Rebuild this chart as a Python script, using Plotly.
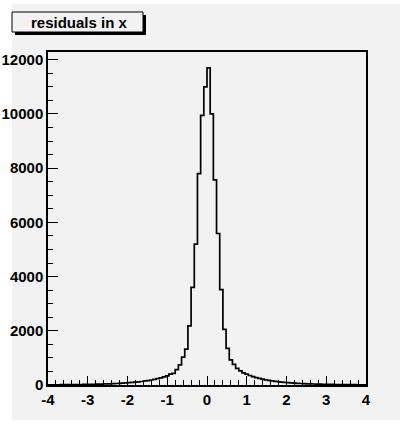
import plotly.graph_objects as go

# Histogram definition: 100 bins from -4 to 4
x_lo, x_hi, n_bins = -4.0, 4.0, 100

counts = [
    8, 9, 9, 10, 11, 12, 13, 14, 15, 16,
    18, 20, 22, 24, 26, 29, 32, 36, 40, 45,
    50, 55, 62, 70, 80, 85, 95, 105, 115, 130,
    150, 165, 185, 210, 235, 260, 300, 340, 400, 430,
    570, 740, 1030, 1320, 2180, 3600, 5200, 7800, 9950, 11000,
    11700, 10000, 7570, 5590, 3520, 2050, 1350, 930, 760, 615,
    520, 450, 400, 350, 310, 275, 245, 215, 190, 170,
    150, 135, 120, 108, 96, 86, 78, 70, 62, 56,
    50, 45, 40, 36, 32, 29, 26, 24, 22, 20,
    18, 16, 15, 14, 13, 12, 11, 10, 9, 9,
]

x_tick_vals = [-4, -3, -2, -1, 0, 1, 2, 3, 4]
x_tick_text = ["-4", "-3", "-2", "-1", "0", "1", "2", "3", "4"]
y_tick_vals = [0, 2000, 4000, 6000, 8000, 10000, 12000]
y_tick_text = ["0", "2000", "4000", "6000", "8000", "10000", "12000"]
title_text = "residuals in x"

width = (x_hi - x_lo) / n_bins
edges = [x_lo + i * width for i in range(n_bins + 1)]
ys = counts + [counts[-1]]

W, H = 400, 424
L, R, T, B = 48, 34, 52, 39
pw, ph = W - L - R, H - T - B

def px(xp):
    return (xp - L) / pw

def py(yp):
    return (H - B - yp) / ph

GREY = "#f2f2f2"
FONT = "Liberation Sans"

fig = go.Figure()
fig.add_trace(go.Scatter(
    x=edges, y=ys, mode="lines", line_shape="hv",
    line=dict(color="black", width=1.7), hoverinfo="skip", showlegend=False,
))

ymax = max(counts) * 1.05

shapes = [
    # grey pad
    dict(type="rect", xref="paper", yref="paper", x0=px(12), x1=px(400), y0=py(4), y1=py(420),
         fillcolor=GREY, line=dict(width=0), layer="below"),
    # title shadow
    dict(type="rect", xref="paper", yref="paper", x0=px(15), x1=px(146), y0=py(15), y1=py(35),
         fillcolor="black", line=dict(width=0), layer="above"),
    # title box
    dict(type="rect", xref="paper", yref="paper", x0=px(12), x1=px(143), y0=py(12), y1=py(32),
         fillcolor=GREY, line=dict(color="black", width=1), layer="above"),
]

fig.update_layout(
    width=W, height=H,
    margin=dict(l=L, r=R, t=T, b=B, pad=0, autoexpand=False),
    paper_bgcolor="white",
    plot_bgcolor="rgba(0,0,0,0)",
    shapes=shapes,
    annotations=[dict(
        text=title_text, xref="paper", yref="paper", x=px(79), y=py(22),
        xanchor="center", yanchor="middle", showarrow=False,
        font=dict(family=FONT, size=15, color="black", weight="bold"),
    )],
    xaxis=dict(
        range=[x_lo, x_hi], tickvals=x_tick_vals, ticktext=x_tick_text,
        ticks="inside", ticklen=9, tickwidth=1.3, tickcolor="black",
        minor=dict(ticks="inside", ticklen=5, dtick=0.2, tickwidth=1.3, tickcolor="black"),
        showline=True, linecolor="black", linewidth=1.5, mirror=True,
        showgrid=False, zeroline=False, automargin=False,
        tickfont=dict(family=FONT, size=15, color="black", weight="bold"),
    ),
    yaxis=dict(
        range=[0, ymax], tickvals=y_tick_vals, ticktext=y_tick_text,
        ticks="inside", ticklen=10, tickwidth=1.3, tickcolor="black",
        minor=dict(ticks="inside", ticklen=5, dtick=500, tickwidth=1.3, tickcolor="black"),
        showline=True, linecolor="black", linewidth=1.5, mirror=True,
        showgrid=False, zeroline=False, automargin=False,
        tickfont=dict(family=FONT, size=15, color="black", weight="bold"),
    ),
)

fig.write_html(
    "out.html",
    config={"displayModeBar": False},
    post_script="document.body.style.margin='0';document.body.style.padding='0';",
)
